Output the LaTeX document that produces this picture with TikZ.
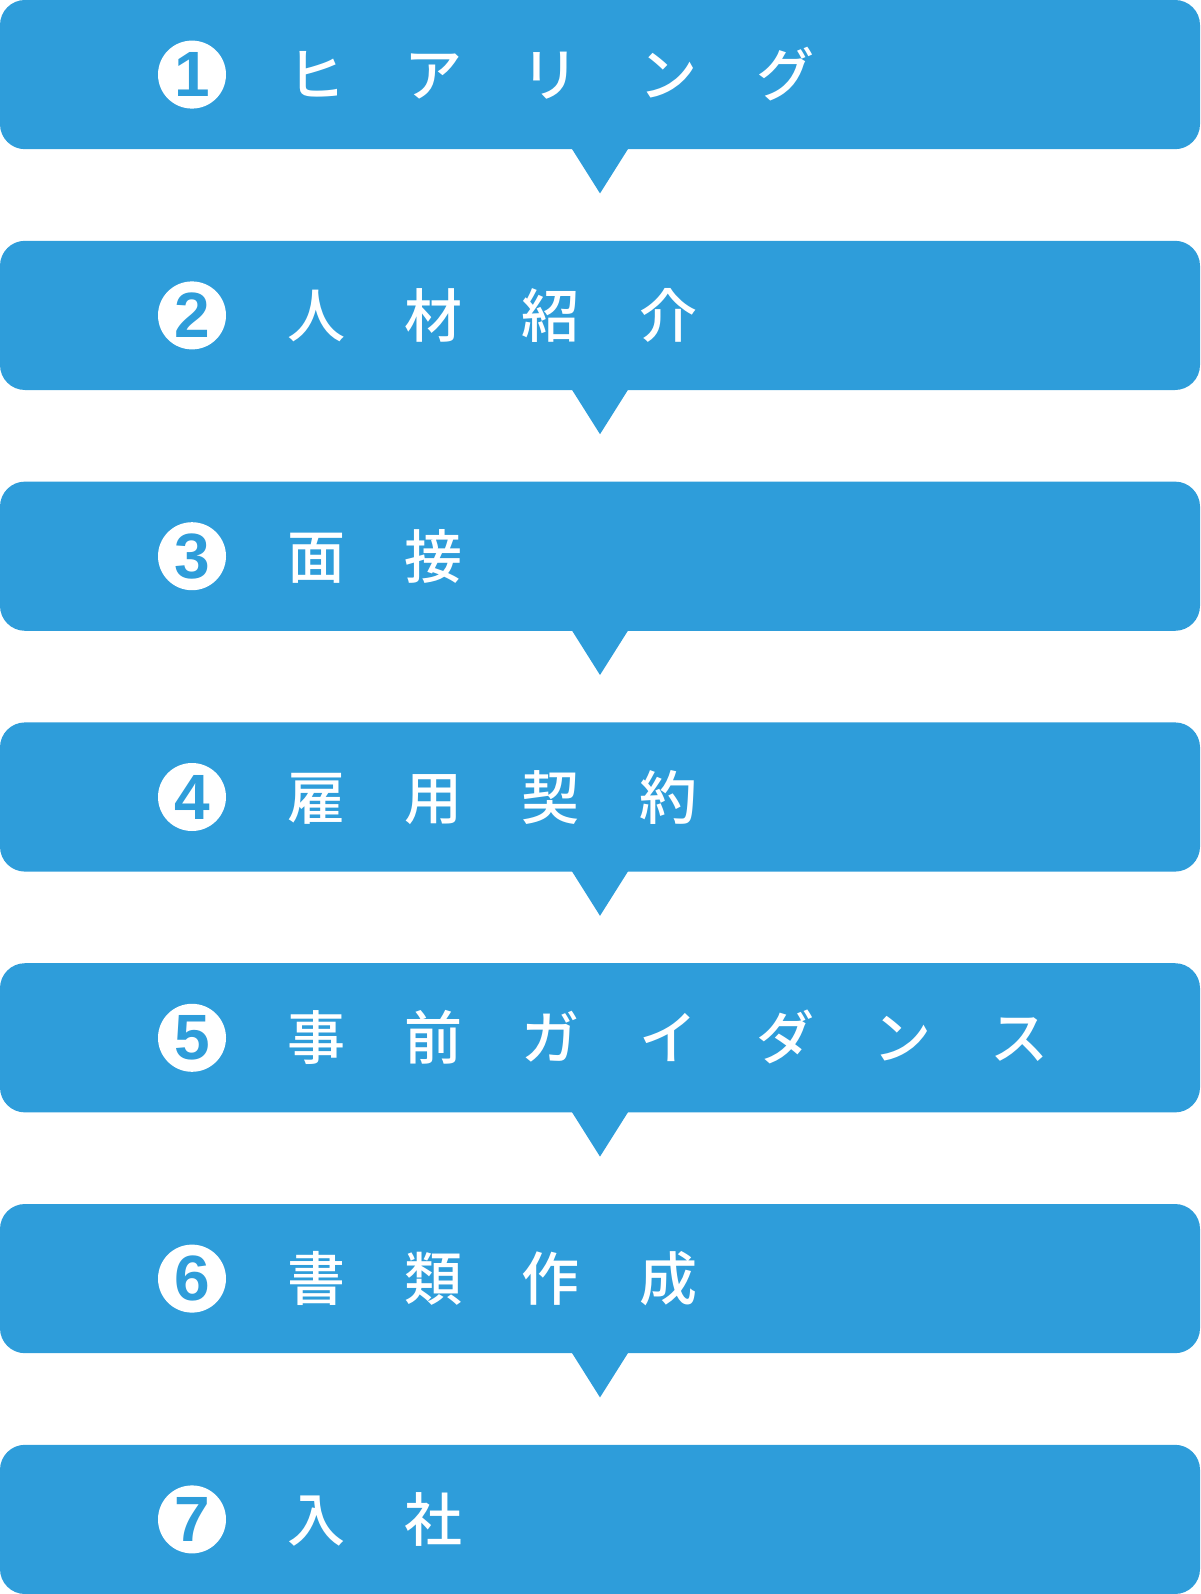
\documentclass[tikz,border=0pt]{standalone}
\usepackage{fontspec}
\newfontfamily\jpfont{Noto Sans CJK JP Medium}
\newfontfamily\numfont{Liberation Sans}
\definecolor{boxblue}{RGB}{46,157,218}
\newcommand\luecke{\hspace{59.3pt}}
\tikzset{
  stepbox/.style={fill=boxblue, rounded corners=25pt, minimum width=1200pt, minimum height=149.2pt, inner sep=0pt},
  numcircle/.style={circle, fill=white, minimum size=68pt, inner sep=0pt, text=boxblue, font=\numfont\bfseries\fontsize{64}{64}\selectfont},
  steptext/.style={anchor=base west, inner sep=0pt, text=white, font=\jpfont\fontsize{58}{58}\selectfont},
}
\newcommand\spitze[1]{\fill[boxblue] ([xshift=-29pt,yshift=2pt]#1.south) -- ([yshift=-44pt]#1.south) -- ([xshift=29pt,yshift=2pt]#1.south) -- cycle;}
\begin{document}
\begin{tikzpicture}[x=1pt,y=-1pt]
			\useasboundingbox (0,0) rectangle (1200,1594);

			% Schritt 1
			\node[stepbox] (b1) at (600,74.6) {};
			\node[numcircle] (n1) at (192,74.6) {1};
			\node[steptext] (t1) at (287,96.6) {ヒ\luecke ア\luecke リ\luecke ン\luecke グ};

			% Schritt 2
			\node[stepbox] (b2) at (600,315.4) {};
			\node[numcircle] (n2) at (192,315.4) {2};
			\node[steptext] (t2) at (287,337.4) {人\luecke 材\luecke 紹\luecke 介};

			% Schritt 3
			\node[stepbox] (b3) at (600,556.2) {};
			\node[numcircle] (n3) at (192,556.2) {3};
			\node[steptext] (t3) at (287,578.2) {面\luecke 接};

			% Schritt 4
			\node[stepbox] (b4) at (600,797.0) {};
			\node[numcircle] (n4) at (192,797.0) {4};
			\node[steptext] (t4) at (287,819.0) {雇\luecke 用\luecke 契\luecke 約};

			% Schritt 5
			\node[stepbox] (b5) at (600,1037.8) {};
			\node[numcircle] (n5) at (192,1037.8) {5};
			\node[steptext] (t5) at (287,1059.8) {事\luecke 前\luecke ガ\luecke イ\luecke ダ\luecke ン\luecke ス};

			% Schritt 6
			\node[stepbox] (b6) at (600,1278.6) {};
			\node[numcircle] (n6) at (192,1278.6) {6};
			\node[steptext] (t6) at (287,1300.6) {書\luecke 類\luecke 作\luecke 成};

			% Schritt 7
			\node[stepbox] (b7) at (600,1519.4) {};
			\node[numcircle] (n7) at (192,1519.4) {7};
			\node[steptext] (t7) at (287,1541.4) {入\luecke 社};

			% Pfeilspitzen
			\spitze{b1}
			\spitze{b2}
			\spitze{b3}
			\spitze{b4}
			\spitze{b5}
			\spitze{b6}

		\end{tikzpicture}
\end{document}
